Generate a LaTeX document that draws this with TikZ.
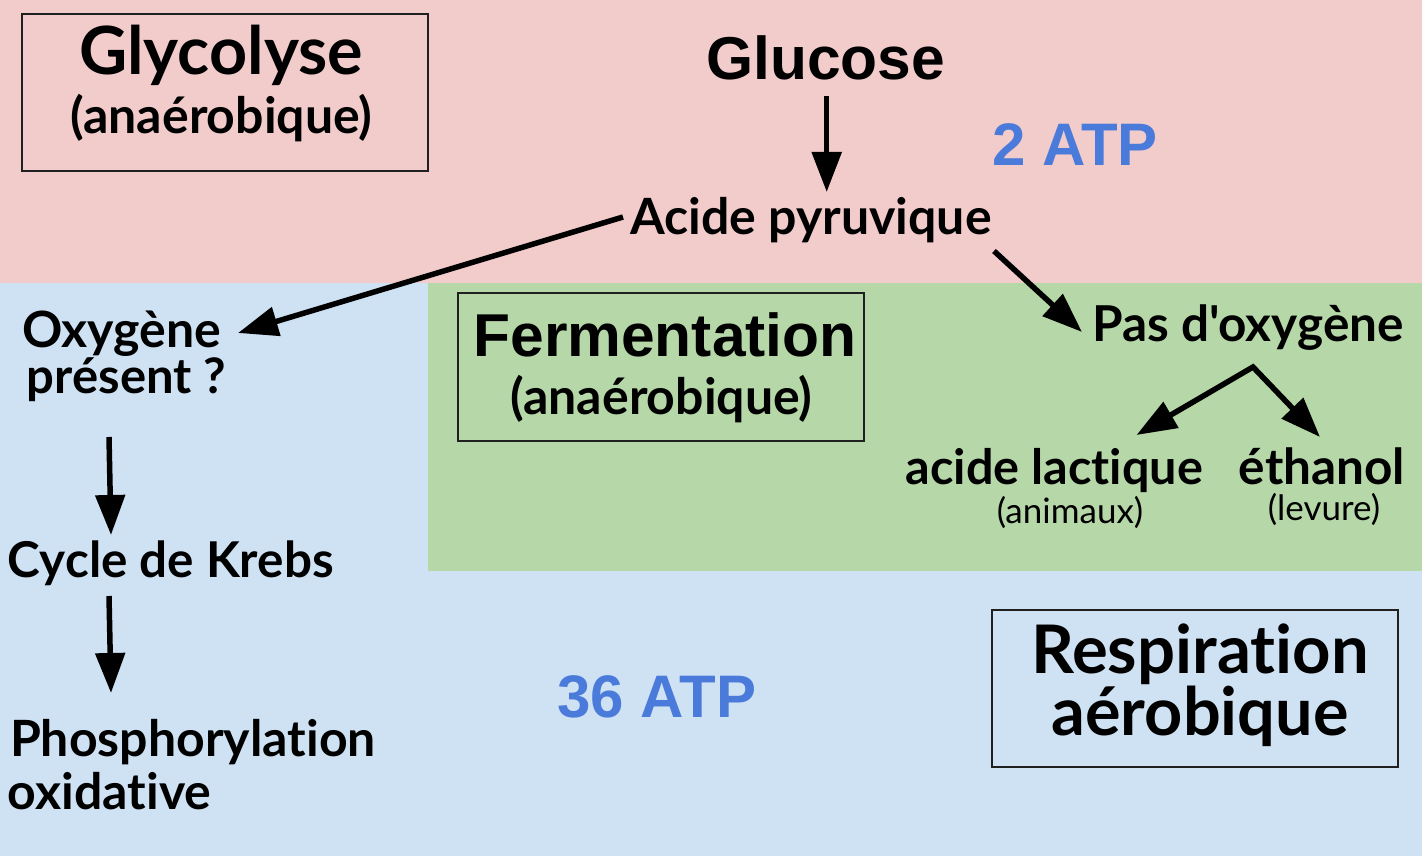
\documentclass[tikz,border=0pt]{standalone}
\usepackage{fontspec}
\setmainfont{Lato}[Ligatures={TeXOff,NoCommon}]
\newfontfamily\arialfont{Liberation Sans}
\usetikzlibrary{arrows.meta,calc}
\definecolor{pinkbg}{HTML}{F2CBCB}
\definecolor{bluebg}{HTML}{CFE2F3}
\definecolor{greenbg}{HTML}{B6D7A8}
\definecolor{atpblue}{HTML}{4A7BDA}
\definecolor{boxline}{HTML}{202020}
\newcommand{\fsz}[1]{\fontsize{#1}{#1}\selectfont}
\tikzset{myhead/.tip={Triangle[length=40pt,width=29pt]}}
\begin{document}
\begin{tikzpicture}[x=1pt,y=-1pt,
  txt/.style={anchor=base, inner sep=0pt, outer sep=0pt},
  lato/.style={txt, font=\bfseries\fsz{#1}},
  latoreg/.style={txt, font=\fsz{#1}},
  arial/.style={txt, font=\arialfont\bfseries\fsz{#1}},
  frame/.style={draw=boxline, line width=1.3pt, inner sep=0pt, outer sep=0pt},
  arr/.style={line width=5.5pt, -myhead}
]
\useasboundingbox (0,0) rectangle (1422,856);
% background regions
\fill[bluebg] (0,283) rectangle (1422,856);
\fill[pinkbg] (0,0) rectangle (1422,283);
\fill[greenbg] (428,283) rectangle (1422,571);

% boxes
\node[frame, minimum width=406pt, minimum height=157pt] (glycobox) at (225,92.5) {};
\node[frame, minimum width=406pt, minimum height=148pt] (fermbox) at (661,367) {};
\node[frame, minimum width=406pt, minimum height=157pt] (respbox) at (1195,688.5) {};

% texts
\node[lato=66.5] (glyco) at (221,75) {Glycolyse};
\node[lato=50] (glycosub) at (221.5,134) {(anaérobique)};
\node[arial=60.5] (glucose) at (825.5,80) {Glucose};
\node[arial=60, text=atpblue] (atp2) at (1075,165) {2 ATP};
\node[lato=50] (acide) at (811,234) {Acide pyruvique};
\node[arial=60.5] (ferm) at (665,356) {Fermentation};
\node[lato=50] (fermsub) at (661.5,414) {(anaérobique)};
\node[lato=49.5] (pas) at (1248,341) {Pas d'oxygène};
\node[lato=48.6] (lact) at (1054.5,484) {acide lactique};
\node[lato=49.5] (eth) at (1322,484) {éthanol};
\node[latoreg=35] (anim) at (1070,523) {(animaux)};
\node[latoreg=35] (lev) at (1324,520) {(levure)};
\node[lato=50, anchor=base west] (oxy) at (22,347) {Oxygène};
\node[lato=49, anchor=base west] (oxyb) at (27,393) {présent ?};
\node[lato=49.4, anchor=base west] (krebs) at (8,577) {Cycle de Krebs};
\node[lato=50, anchor=base west] (phos) at (10,756) {Phosphorylation};
\node[lato=50, anchor=base west] (phosb) at (8,809) {oxidative};
\node[arial=60, text=atpblue] (atp36) at (657,717) {36 ATP};
\node[lato=67] (resp) at (1200,673) {Respiration};
\node[lato=66.6] (respb) at (1200,735) {aérobique};

% connectors
\draw[arr] ($(glucose.base)+(1.2,16)$) -- ($(glucose.base)+(1.2,112)$);
\draw[arr] ($(acide.base)+(-188,-17)$) -- ($(oxy.base west)+(216,-14)$);
\draw[arr] ($(acide.base)+(183,17)$) -- ($(pas.base)+(-166,-9)$);
\coordinate (split) at ($(pas.base)+(5,26)$);
\draw[line width=5.5pt, myhead-myhead] ($(lact.base)+(82,-49)$) -- (split) -- ($(eth.base)+(-2,-47)$);
\draw[arr] ($(oxyb.base west)+(82,44)$) -- ($(krebs.base west)+(103,-42)$);
\draw[arr] ($(krebs.base west)+(101,19)$) -- ($(phos.base west)+(101,-63)$);
\end{tikzpicture}
\end{document}
